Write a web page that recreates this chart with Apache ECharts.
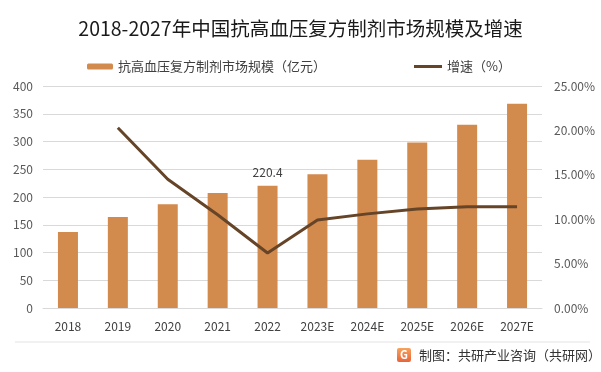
<!DOCTYPE html>
<html>
<head>
<meta charset="utf-8">
<script src="https://cdn.jsdelivr.net/npm/echarts@6/dist/echarts.min.js"></script>
<style>
html,body{margin:0;padding:0;background:#fff;}
#c{width:601px;height:372px;}
</style>
</head>
<body>
<div id="c"></div>
<script>
const categories = ['2018','2019','2020','2021','2022','2023E','2024E','2025E','2026E','2027E'];
const marketSize = [137, 164, 187, 207, 220.4, 241, 267, 298, 330, 368];
const growthRate = [null, 0.203, 0.145, 0.105, 0.062, 0.099, 0.106, 0.1115, 0.114, 0.114];
const leftTicks = {min: 0, max: 400, interval: 50};
const rightTicks = {min: 0, max: 0.25, interval: 0.05};
const labeledIndex = 4;

const FONT = '"Noto Sans CJK SC","Noto Sans",sans-serif';
const chart = echarts.init(document.getElementById('c'), null, {renderer: 'canvas'});

const barData = marketSize.map((v, i) => i === labeledIndex
  ? {value: v, label: {show: true, position: 'top', distance: 7, color: '#404040', fontSize: 12, fontFamily: FONT}}
  : v);

chart.setOption({
  backgroundColor: '#fff',
  animation: false,
  textStyle: {fontFamily: FONT},
  title: {
    text: '2018-2027年中国抗高血压复方制剂市场规模及增速',
    left: 'center', top: 14,
    textStyle: {fontSize: 19.5, fontWeight: 'normal', color: '#1a1a1a', fontFamily: FONT}
  },
  legend: [
    {data: ['抗高血压复方制剂市场规模（亿元）'], left: 82, top: 55, itemWidth: 26, itemHeight: 6,
     textStyle: {fontSize: 13, color: '#404040', fontFamily: FONT}},
    {data: [{name: '增速（%）', icon: 'rect'}], left: 409, top: 55, itemWidth: 28, itemHeight: 3,
     textStyle: {fontSize: 13, color: '#404040', fontFamily: FONT}}
  ],
  grid: {left: 43, right: 59, top: 86, bottom: 64},
  xAxis: {
    type: 'category', data: categories,
    axisLine: {lineStyle: {color: '#d9d9d9'}},
    axisTick: {show: false},
    axisLabel: {color: '#404040', fontSize: 12, margin: 12, fontFamily: FONT}
  },
  yAxis: [
    {type: 'value', min: leftTicks.min, max: leftTicks.max, interval: leftTicks.interval,
     axisLine: {show: false}, axisTick: {show: false},
     axisLabel: {color: '#595959', fontSize: 12, margin: 10, fontFamily: FONT},
     splitLine: {lineStyle: {color: '#d9d9d9'}}},
    {type: 'value', min: rightTicks.min, max: rightTicks.max, interval: rightTicks.interval,
     axisLine: {show: false}, axisTick: {show: false},
     axisLabel: {color: '#595959', fontSize: 12, margin: 12, fontFamily: FONT,
       formatter: v => (v * 100).toFixed(2) + '%'},
     splitLine: {show: false}}
  ],
  series: [
    {name: '抗高血压复方制剂市场规模（亿元）', type: 'bar', data: barData, barWidth: 20,
     itemStyle: {color: '#D38A4D'}},
    {name: '增速（%）', type: 'line', yAxisIndex: 1, data: growthRate, symbol: 'none',
     connectNulls: false,
     lineStyle: {color: '#654428', width: 3}, itemStyle: {color: '#654428'}}
  ],
  graphic: [
    {type: 'line', shape: {x1: 15, y1: 342, x2: 590, y2: 342}, style: {stroke: '#e3e3e3', lineWidth: 1}},
    {type: 'rect', shape: {x: 397, y: 348, width: 14, height: 14, r: 2},
     style: {fill: new echarts.graphic.LinearGradient(0, 0, 0, 1, [{offset: 0, color: '#f7a35c'}, {offset: 1, color: '#e8643a'}])}},
    {type: 'text', x: 404, y: 355, style: {text: 'G', fill: '#fff', fontSize: 11, fontWeight: 'bold', align: 'center', verticalAlign: 'middle', fontFamily: FONT}},
    {type: 'text', x: 419, y: 355, style: {text: '制图：共研产业咨询（共研网）', fill: '#333', fontSize: 13, verticalAlign: 'middle', fontFamily: FONT}}
  ]
});
</script>
</body>
</html>
